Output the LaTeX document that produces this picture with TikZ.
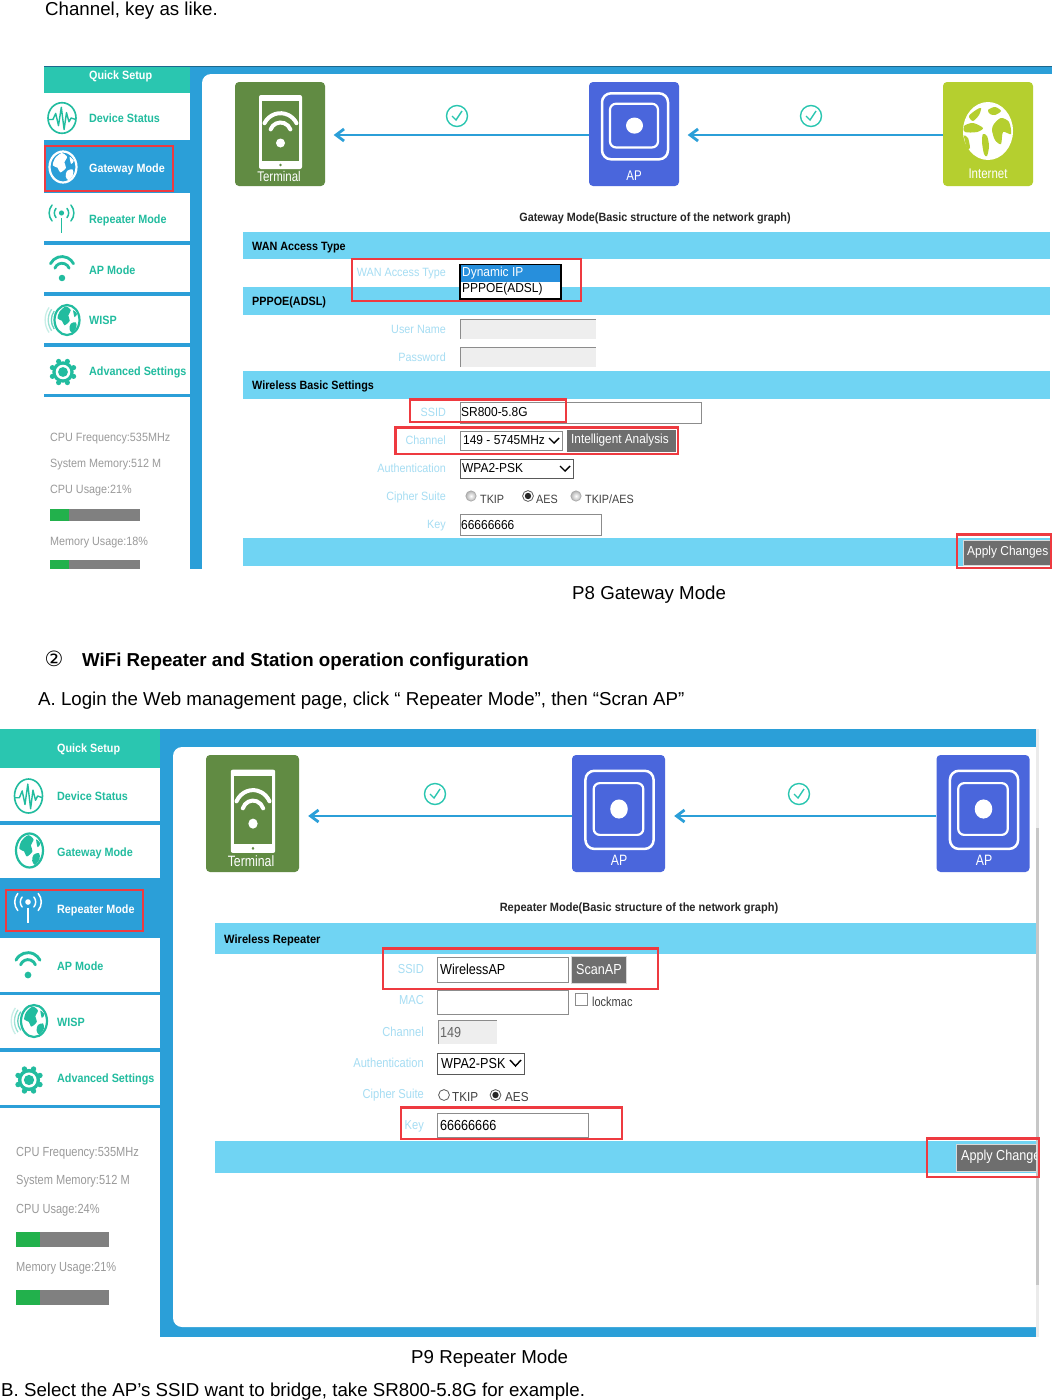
\documentclass[tikz,border=0pt]{standalone}
\usepackage{fontspec}
\setmainfont{Liberation Sans}
\newfontfamily\dejavu{DejaVu Sans}
\usetikzlibrary{arrows.meta}
\definecolor{sideblue}{HTML}{2B9FD8}
\definecolor{quickteal}{HTML}{2AC6B0}
\definecolor{menuteal}{HTML}{22BC9F}
\definecolor{barblue}{HTML}{70D4F3}
\definecolor{labblue}{HTML}{A6DDF3}
\definecolor{redbox}{HTML}{EE3A40}
\definecolor{statgray}{HTML}{9A9A9A}
\definecolor{btngray}{HTML}{6E6E6E}
\definecolor{termgreen}{HTML}{618B43}
\definecolor{apblue}{HTML}{4A66DC}
\definecolor{netgreen}{HTML}{B5CF2F}
\definecolor{progress}{HTML}{22B14C}
\definecolor{progback}{HTML}{808080}
\definecolor{fieldgray}{HTML}{EEEEEE}
\definecolor{fieldedge}{HTML}{8C8C8C}
\tikzset{
  body/.style={anchor=west,inner sep=0pt,yshift=-2.5pt,font=\fontsize{18.7}{20}\selectfont,text=black},
  menuA/.style={anchor=west,inner sep=0pt,xscale=.9,yshift=-.5pt,font=\bfseries\fontsize{12}{12}\selectfont,text=menuteal},
  menuB/.style={menuA,text=white},
  statA/.style={anchor=west,inner sep=0pt,xscale=.9,yshift=-1.5pt,font=\fontsize{12}{12}\selectfont,text=statgray},
  statB/.style={statA,xscale=.93,yshift=1pt,font=\fontsize{13.2}{13}\selectfont},
  headA/.style={anchor=west,inner sep=0pt,xscale=.9,yshift=-1.5pt,font=\bfseries\fontsize{12}{12}\selectfont,text=black},
  headB/.style={headA,xscale=1.03},
  titleA/.style={inner sep=0pt,xscale=.9,yshift=-1pt,font=\bfseries\fontsize{12}{12}\selectfont,text=black!85},
  labA/.style={anchor=east,inner sep=0pt,xscale=.9,yshift=-.5pt,font=\fontsize{12}{12}\selectfont,text=labblue},
  labB/.style={labA,xscale=.95,yshift=.5pt,font=\fontsize{13}{13}\selectfont},
  valA/.style={anchor=west,inner sep=0pt,xscale=.92,yshift=-.5pt,font=\fontsize{13}{13}\selectfont,text=black},
  valB/.style={anchor=west,inner sep=0pt,xscale=.87,font=\fontsize{14.5}{14}\selectfont,text=black},
  radA/.style={anchor=west,inner sep=0pt,xscale=.9,font=\fontsize{12}{12}\selectfont,text=black!75},
  fieldbox/.style={draw=fieldedge,fill=white,line width=.9pt},
  selbox/.style={draw=black!65,fill=white,line width=.9pt},
  graybox/.style={fill=fieldgray},
  redrect/.style={draw=redbox,line width=2.2pt},
  iconbox/.style={inner sep=0pt,rounded corners=4pt,text=white},
  arr/.style={draw=sideblue,line width=2pt,-{Straight Barb[length=8pt,width=12pt,line width=2.8pt]}},
  chev/.style={draw=black,line width=1.4pt},
}
% check-circle
\newcommand\checkmarkicon[2]{%
  \draw[quickteal,line width=1.4pt] (#1,#2) circle (10.5);
  \draw[quickteal,line width=1.4pt] (#1-5,#2) -- (#1-1,#2+4) -- (#1+5,#2-5);}
% wifi: dot at (#1,#2), two arcs above it; #3 scale, #4 colour, #5 line width
\newcommand\wifiarcs[5]{%
  \begin{scope}[shift={(#1,#2)},scale=#3]
    \fill[#4] (0,0) circle (4.5);
    \draw[#4,line width=#5,line cap=round] ([shift={(206:17.8)}]0,-12) arc[start angle=206,end angle=334,radius=17.8];
    \draw[#4,line width=#5,line cap=round] ([shift={(200:10.5)}]0,-10) arc[start angle=200,end angle=340,radius=10.5];
  \end{scope}}
% globe in a ring
\newcommand\globeblobs[5]{% cx cy rx ry colour
  \begin{scope}[shift={(#1,#2)},xscale=#3,yscale=#4]
    \fill[#5] plot[smooth cycle] coordinates {(-.6,-.55)(-.1,-.9)(.3,-.65)(.1,-.3)(.22,.05)(-.2,.35)(-.4,.05)(-.75,-.1)};
    \fill[#5] plot[smooth cycle] coordinates {(.3,.25)(.7,.15)(.75,.5)(.4,.85)(.2,.6)};
    \fill[#5] plot[smooth cycle] coordinates {(.5,-.65)(.8,-.4)(.6,-.2)};
  \end{scope}}
\newcommand\sideglobe[5]{%
  \draw[#5,line width=2.2pt] (#1,#2) ellipse (#3 and #4);
  \globeblobs{#1}{#2}{#3}{#4}{#5}}
\newcommand\pulseicon[5]{%
  \draw[#5,line width=1.6pt] (#1,#2) ellipse (#3 and #4);
  \begin{scope}[shift={(#1,#2)},xscale=#3,yscale=#4]
  \draw[#5,line width=1.4pt,line join=round] (-1,.1) -- (-.65,.1) -- (-.45,-.3) -- (-.25,.5) -- (-.05,-.7) -- (.15,.75) -- (.32,-.35) -- (.5,.25) -- (.65,0) -- (1,.1);
  \end{scope}}
\newcommand\antennaicon[4]{%
  \begin{scope}[shift={(#1,#2)},scale=#3]
  \fill[#4] (0,-.5) circle (.2);
  \draw[#4,line width=1.9pt] (0,-.1) -- (0,1);
  \foreach \rr in {.55,.95}{
    \draw[#4,line width=1.5pt,line cap=round] ([shift={(140:\rr)}]0,-.5) arc[start angle=140,end angle=220,radius=\rr];
    \draw[#4,line width=1.5pt,line cap=round] ([shift={(-40:\rr)}]0,-.5) arc[start angle=-40,end angle=40,radius=\rr];}
  \end{scope}}
\newcommand\gearicon[4]{%
  \foreach \ang in {0,45,...,315}{\fill[#4] (#1,#2) ++(\ang+22.5:#3*.88) circle (#3*.2);}
  \fill[#4] (#1,#2) circle (#3*.82);
  \fill[white] (#1,#2) circle (#3*.56);
  \fill[#4] (#1,#2) circle (#3*.38);}
\newcommand\wispicon[5]{%
  \sideglobe{#1}{#2}{#3}{#4}{#5}
  \foreach \rr/\op in {1.25/70,1.5/45,1.75/25}{
    \draw[#5!\op,line width=1.3pt] ([shift={(145:\rr*#3)}]#1,#2) arc[start angle=145,end angle=215,radius=\rr*#3];}}
% Contents of the three large pictograms (drawn on a 90 x 104 grid)
\newcommand\tabletart[4]{% x y xs ys
  \begin{scope}[shift={(#1,#2)},xscale=#3,yscale=#4]
    \fill[white,rounded corners=2pt] (24,13) rectangle (67,87);
    \fill[termgreen] (27,19) rectangle (64,79);
    \wifiarcs{45.5}{61}{1}{white}{4pt}
    \fill[termgreen] (45.5,83) circle (1.3);
  \end{scope}}
\newcommand\apart[4]{% x y xs ys
  \begin{scope}[shift={(#1,#2)},xscale=#3,yscale=#4]
    \draw[white,line width=2.5pt,rounded corners=9pt] (13,14) rectangle (79,83.5);
    \draw[white,line width=2.2pt,rounded corners=6pt] (21,25) rectangle (69,71);
    \fill[white] (45.5,48) circle (8.5);
  \end{scope}}
\newcommand\netart[4]{%
  \begin{scope}[shift={(#1,#2)},xscale=#3,yscale=#4]
    \fill[white] (45,49) ellipse (25 and 29);
    \fill[netgreen] plot[smooth cycle] coordinates {(26,34)(33,28)(38,26)(36,33)(30,39)};
    \fill[netgreen] plot[smooth cycle] coordinates {(45,28)(52,25)(58,29)(52,33)(47,32)};
    \fill[netgreen] plot[smooth cycle] coordinates {(51,42)(58,36)(66,40)(68,52)(60,50)(58,62)(52,58)(49,48)};
    \fill[netgreen] plot[smooth cycle] coordinates {(21,44)(30,41)(40,46)(34,50)(22,50)};
    \fill[netgreen] plot[smooth cycle] coordinates {(40,52)(44,54)(46,64)(44,74)(41,72)(39,60)};
    \fill[netgreen] plot[smooth cycle] coordinates {(21,54)(25,56)(27,66)(24,66)};
  \end{scope}}
\newcommand\radio[3]{% x y state
  \ifnum#3=0 \shade[inner color=white,outer color=black!30] (#1,#2) circle (5.2);\draw[black!35,line width=.6pt] (#1,#2) circle (5.2);
  \else\ifnum#3=1 \draw[black!65,fill=white,line width=.8pt] (#1,#2) circle (5.4);
  \else \draw[black!65,fill=white,line width=.8pt] (#1,#2) circle (5.4); \fill[black!85] (#1,#2) circle (3.2);\fi\fi}
\begin{document}
\begin{tikzpicture}[x=1pt,y=-1pt]
\useasboundingbox (0,0) rectangle (1052,1400);
\fill[white] (0,0) rectangle (1052,1400);

% ---------- running text
\node[body] (t1) at (45,8) {Channel, key as like.};
\node[body] (t2) at (572,592) {P8 Gateway Mode};
\node[anchor=center,inner sep=0pt,font=\dejavu\fontsize{21}{21}\selectfont] (t3) at (54,659) {②};
\node[body,font=\bfseries\fontsize{18.7}{20}\selectfont] (t4) at (82,659) {WiFi Repeater and Station operation configuration};
\node[body] (t5) at (38,698) {A. Login the Web management page, click “ Repeater Mode”, then “Scran AP”};
\node[body] (t6) at (411,1356) {P9 Repeater Mode};
\node[body] (t7) at (1,1389) {B. Select the AP’s SSID want to bridge, take SR800-5.8G for example.};

% ========== PANEL 1 ==========
\begin{scope}
\clip (44,60) rectangle (1052,569);
\fill[sideblue] (190,66) rectangle (1052,569);
\fill[black!35!sideblue] (44,65.5) rectangle (1052,67);
\fill[white,rounded corners=9pt] (202,74) rectangle (1070,600);
\end{scope}
\fill[white] (44,93) rectangle (190,569);
\fill[quickteal] (44,67) rectangle (190,93);
\fill[sideblue] (44,140) rectangle (190,193);
\foreach \ya/\yb in {241/245,292/296,343/347,394/397}{\fill[sideblue] (44,\ya) rectangle (190,\yb);}
\node[menuB] (q1) at (89,76) {Quick Setup};
\node[menuA] (m11) at (89,118) {Device Status};
\node[menuB] (m12) at (89,169) {Gateway Mode};
\node[menuA] (m13) at (89,220) {Repeater Mode};
\node[menuA] (m14) at (89,270) {AP Mode};
\node[menuA] (m15) at (89,320) {WISP};
\node[menuA] (m16) at (89,372) {Advanced Settings};
\pulseicon{62}{118}{14}{15.3}{menuteal}
\sideglobe{63}{167}{13.5}{15.5}{white}
\antennaicon{61.5}{219.5}{13}{menuteal}
\wifiarcs{62}{278}{.72}{menuteal}{2.8pt}
\wispicon{67}{320}{12.5}{15}{menuteal}
\gearicon{63}{372}{13}{menuteal}
\draw[redrect] (45,146) rectangle (173,191);
\node[statA] (s11) at (50,437) {CPU Frequency:535MHz};
\node[statA] (s12) at (50,463) {System Memory:512 M};
\node[statA] (s13) at (50,489) {CPU Usage:21\%};
\fill[progback] (50,509) rectangle (140,521);
\fill[progress] (50,509) rectangle (69,521);
\node[statA] (s14) at (50,541) {Memory Usage:18\%};
\fill[progback] (50,560) rectangle (140,569);
\fill[progress] (50,560) rectangle (69,569);

\node[iconbox,fill=termgreen,minimum width=90pt,minimum height=104pt] (term1) at (280,134) {};
\node[iconbox,fill=apblue,minimum width=90pt,minimum height=104pt] (ap1) at (634,134) {};
\node[iconbox,fill=netgreen,minimum width=90pt,minimum height=104pt] (net1) at (988,134) {};
\tabletart{235}{82}{1}{1}
\apart{589}{80}{1}{.95}
\netart{943}{82}{1}{1}
\node[inner sep=0pt,xscale=.82,text=white,font=\fontsize{14}{14}\selectfont] (tl1) at (279,176) {Terminal};
\node[inner sep=0pt,xscale=.82,text=white,font=\fontsize{14}{14}\selectfont] (al1) at (634,176) {AP};
\node[inner sep=0pt,xscale=.82,text=white,font=\fontsize{14}{14}\selectfont] (il1) at (988,174) {Internet};
\draw[arr,shorten >=8.5pt] (ap1.west |- 0,135) -- (term1.east |- 0,135);
\draw[arr,shorten >=8.5pt] (net1.west |- 0,135) -- (ap1.east |- 0,135);
\checkmarkicon{457}{116}
\checkmarkicon{811}{116}
\node[titleA] (ti1) at (655,217) {Gateway Mode(Basic structure of the network graph)};

\fill[barblue] (243,232) rectangle (1050,259);
\fill[barblue] (243,287) rectangle (1050,315);
\fill[barblue] (243,371) rectangle (1050,399);
\fill[barblue] (243,538) rectangle (1050,566);
\node[headA] (h11) at (252,246) {WAN Access Type};
\node[headA] (h12) at (252,301) {PPPOE(ADSL)};
\node[headA] (h13) at (252,385) {Wireless Basic Settings};
\node[labA] (l11) at (446,273) {WAN Access Type};
\draw[black,fill=white,line width=1.1pt] (460,264.5) rectangle (561,299);
\fill[sideblue!90!blue] (460.6,265) rectangle (560.4,281.5);
\node[valA,text=white] (v11) at (462,273) {Dynamic IP};
\node[valA] (v12) at (462,289) {PPPOE(ADSL)};
\draw[redrect] (352,259) rectangle (581,301);
\node[labA] (l12) at (446,329) {User Name};
\node[labA] (l13) at (446,357) {Password};
\fill[graybox] (460,319) rectangle (596,339);
\draw[fieldedge,line width=1pt] (460,339) -- (460,319.5) -- (596,319.5);
\fill[graybox] (460,347) rectangle (596,367);
\draw[fieldedge,line width=1pt] (460,367) -- (460,347.5) -- (596,347.5);
\node[labA] (l14) at (446,412) {SSID};
\draw[fieldbox] (460,402) rectangle (701,423);
\node[valA] (v13) at (461,412) {SR800-5.8G};
\draw[redrect] (410,399.5) rectangle (566,422);
\node[labA] (l15) at (446,440) {Channel};
\draw[fieldbox] (460,431) rectangle (562,450);
\node[valA] (v14) at (463,440) {149 - 5745MHz};
\draw[chev] (549,438) -- (554,443) -- (559,438);
\fill[btngray] (567,430) rectangle (676,452);
\node[valA,text=white,xscale=.97,font=\fontsize{13.2}{13}\selectfont] (b11) at (571,440) {Intelligent Analysis};
\draw[redrect] (395.5,427.5) rectangle (678,454);
\node[labA] (l16) at (446,468) {Authentication};
\draw[selbox] (460,459) rectangle (573,478);
\node[valA] (v15) at (462,468) {WPA2-PSK};
\draw[chev] (560,466) -- (565,471) -- (570,466);
\node[labA] (l17) at (446,497) {Cipher Suite};
\radio{471}{496}{0}
\node[radA] (r11) at (480,499) {TKIP};
\radio{528}{496}{2}
\node[radA] (r12) at (536,499) {AES};
\radio{576}{496}{0}
\node[radA] (r13) at (585,499) {TKIP/AES};
\node[labA] (l18) at (446,525) {Key};
\draw[fieldbox] (460,514) rectangle (601,535);
\node[valA] (v16) at (461,525) {66666666};
\fill[btngray] (963,540) rectangle (1050,565);
\draw[black!15,line width=1pt] (963,540) rectangle (1050,565);
\node[valA,text=white] (b12) at (967,552) {Apply Changes};
\draw[redrect] (957,534.5) rectangle (1051,568);

% ========== PANEL 2 ==========
\begin{scope}
\clip (0,725) rectangle (1036,1337);
\fill[sideblue] (160,729) rectangle (1036,1337);
\fill[white,rounded corners=9pt] (173,747) rectangle (1060,1327);
\end{scope}
\fill[black!8] (1036,729) rectangle (1039,1337);
\fill[black!22] (1036,828) rectangle (1039,1285);
\fill[white] (0,768) rectangle (160,1337);
\fill[quickteal] (0,729) rectangle (160,768);
\fill[sideblue] (0,878) rectangle (160,938);
\foreach \ya/\yb in {821/825,992/995,1048/1052,1105/1108}{\fill[sideblue] (0,\ya) rectangle (160,\yb);}
\node[menuB] (q2) at (57,749) {Quick Setup};
\node[menuA] (m21) at (57,796) {Device Status};
\node[menuA] (m22) at (57,853) {Gateway Mode};
\node[menuB] (m23) at (57,910) {Repeater Mode};
\node[menuA] (m24) at (57,966) {AP Mode};
\node[menuA] (m25) at (57,1022) {WISP};
\node[menuA] (m26) at (57,1079) {Advanced Settings};
\pulseicon{28.5}{796}{14}{17}{menuteal}
\sideglobe{29.5}{850.5}{13.5}{17}{menuteal}
\antennaicon{28}{909}{14}{white}
\wifiarcs{28}{975}{.75}{menuteal}{2.9pt}
\wispicon{34}{1021}{13}{16}{menuteal}
\gearicon{29}{1080}{13.5}{menuteal}
\draw[redrect] (6,890) rectangle (143,931);
\node[statB] (s21) at (16,1153) {CPU Frequency:535MHz};
\node[statB] (s22) at (16,1181) {System Memory:512 M};
\node[statB] (s23) at (16,1210) {CPU Usage:24\%};
\fill[progback] (16,1232) rectangle (109,1247);
\fill[progress] (16,1232) rectangle (40,1247);
\node[statB] (s24) at (16,1268) {Memory Usage:21\%};
\fill[progback] (16,1290) rectangle (109,1305);
\fill[progress] (16,1290) rectangle (40,1305);

\node[iconbox,fill=termgreen,minimum width=93pt,minimum height=117pt] (term2) at (252.5,813.5) {};
\node[iconbox,fill=apblue,minimum width=93pt,minimum height=117pt] (ap2) at (618.5,813.5) {};
\node[iconbox,fill=apblue,minimum width=93pt,minimum height=117pt] (ap3) at (983,813.5) {};
\tabletart{206}{755}{1.033}{1.125}
\apart{572}{755}{1.033}{1.125}
\apart{936.5}{755}{1.033}{1.125}
\node[inner sep=0pt,xscale=.82,text=white,font=\fontsize{15}{15}\selectfont] (tl2) at (251,861) {Terminal};
\node[inner sep=0pt,xscale=.82,text=white,font=\fontsize{15}{15}\selectfont] (al2) at (619,860) {AP};
\node[inner sep=0pt,xscale=.82,text=white,font=\fontsize{15}{15}\selectfont] (al3) at (984,860) {AP};
\draw[arr,shorten >=9pt] (ap2.west |- 0,816) -- (term2.east |- 0,816);
\draw[arr,shorten >=9pt] (ap3.west |- 0,816) -- (ap2.east |- 0,816);
\checkmarkicon{435}{794}
\checkmarkicon{799}{794}
\node[titleA,xscale=1.02] (ti2) at (639,907) {Repeater Mode(Basic structure of the network graph)};

\fill[barblue] (215,923) rectangle (1036,954);
\fill[barblue] (215,1141) rectangle (1036,1173);
\node[headB] (h21) at (224,939) {Wireless Repeater};
\node[labB] (l21) at (424,969) {SSID};
\draw[fieldbox] (437.5,957.5) rectangle (568,982);
\node[valB] (v21) at (440,969) {WirelessAP};
\fill[btngray] (571,956) rectangle (626,983);
\draw[black!15,line width=1pt] (571,956) rectangle (626,983);
\node[valB,text=white] (b21) at (576,969) {ScanAP};
\draw[redrect] (383,948.5) rectangle (658,989);
\node[labB] (l22) at (424,1000) {MAC};
\draw[fieldbox] (437.5,990) rectangle (568,1014);
\draw[fieldbox] (575.5,993) rectangle (587,1005);
\node[radA,xscale=.94,font=\fontsize{13}{13}\selectfont] (c21) at (592,1002) {lockmac};
\node[labB] (l23) at (424,1032) {Channel};
\fill[graybox] (438,1020) rectangle (497,1044);
\draw[fieldedge,line width=1pt] (438.5,1044) -- (438.5,1020.5) -- (497,1020.5);
\node[valB,text=black!60] (v23) at (440,1032) {149};
\node[labB] (l24) at (424,1063) {Authentication};
\draw[selbox] (437.5,1053) rectangle (524,1074);
\node[valB] (v24) at (441,1063.5) {WPA2-PSK};
\draw[chev] (510,1060) -- (515.5,1066) -- (521,1060);
\node[labB] (l25) at (424,1095) {Cipher Suite};
\radio{444}{1095}{1}
\node[radA,font=\fontsize{13}{13}\selectfont] (r21) at (452,1097) {TKIP};
\radio{495.5}{1095}{2}
\node[radA,font=\fontsize{13}{13}\selectfont] (r22) at (505,1097) {AES};
\node[labB] (l26) at (424,1126) {Key};
\draw[fieldbox] (437.5,1113.5) rectangle (588,1137);
\node[valB] (v26) at (440,1125) {66666666};
\draw[redrect] (401,1107.5) rectangle (622,1139);
\fill[btngray] (956,1144) rectangle (1036,1171);
\draw[black!15,line width=1pt] (956,1144) rectangle (1036,1171);
\begin{scope}
  \clip (950,1140) rectangle (1036,1175);
  \node[valB,text=white] (b22) at (961,1157) {Apply Changes};
\end{scope}
\draw[redrect] (927,1138.5) rectangle (1039,1177);
\end{tikzpicture}
\end{document}
